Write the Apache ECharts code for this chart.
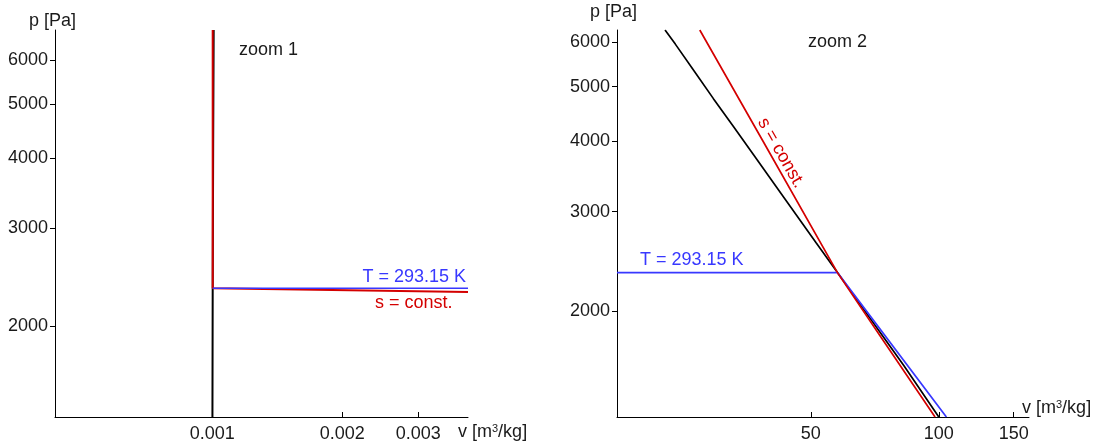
<!DOCTYPE html>
<html><head><meta charset="utf-8">
<script src="https://cdn.jsdelivr.net/npm/echarts@6/dist/echarts.min.js"></script>
<style>html,body{margin:0;padding:0;background:#fff}#c{width:1095px;height:448px}</style>
</head><body><div id="c"></div>
<script>
// ---- zoom 1 (liquid side) ----
const z1XRange = [0.000432, 0.00391];
const z1YRange = [1373, 6800];
const z1XTicks = [0.001, 0.002, 0.003];
const z1YTicks = [2000, 3000, 4000, 5000, 6000];
const z1Sat  = [[0.0010004, 1373], [0.0010018, 2339], [0.0010043, 4247], [0.0010070, 6800]];
const z1Iso  = [[0.0010018, 2339], [0.00391, 2339]];
const z1Isen = [[0.0010018, 6800], [0.0010018, 2339], [0.00391, 2303]];
// ---- zoom 2 (vapour side) ----
const z2XRange = [17.5, 163];
const z2YRange = [1297, 6300];
const z2XTicks = [50, 100, 150];
const z2YTicks = [2000, 3000, 4000, 5000, 6000];
const z2Sat  = [[100, 1297], [82.8, 1599], [73.3, 1819], [65.0, 2065], [57.76, 2339], [51.4, 2645], [43.34, 3170], [36.7, 3782], [32.88, 4247], [29.5, 4760], [26.6, 5324], [24.0, 5947], [22.7, 6300]];
const z2Iso  = [[17.5, 2339], [57.76, 2339], [104.2, 1297]];
const z2Isen = [[98.0, 1297], [73.0, 1800], [57.76, 2339], [38.6, 4000], [27.4, 6300]];

const FONT = 'Liberation Sans';
const TXT = '#1a1a1a';
const RED = '#d40000', BLUE = '#3838ff', BLACK = '#000000';
const fmt = v => String(+(+v).toPrecision(4));

function xAx(gi, range, ticks) {
  return {type: 'log', gridIndex: gi, min: range[0], max: range[1], logBase: 10,
    axisLine: {show: true, lineStyle: {color: '#000', width: 1}},
    axisTick: {show: true, inside: true, length: 5, customValues: ticks, lineStyle: {color: '#000'}},
    axisLabel: {customValues: ticks, margin: 8, fontSize: 18, color: TXT, fontFamily: FONT, formatter: fmt},
    splitLine: {show: false}, minorTick: {show: false}, minorSplitLine: {show: false}};
}
function yAx(gi, range, ticks) {
  return {type: 'log', gridIndex: gi, min: range[0], max: range[1], logBase: 10,
    axisLine: {show: true, lineStyle: {color: '#000', width: 1}},
    axisTick: {show: true, inside: false, length: 5, customValues: ticks, lineStyle: {color: '#000'}},
    axisLabel: {customValues: ticks, margin: 7, fontSize: 18, color: TXT, fontFamily: FONT, formatter: fmt},
    splitLine: {show: false}, minorTick: {show: false}, minorSplitLine: {show: false}};
}
function ln(gi, data, color, w) {
  return {type: 'line', xAxisIndex: gi, yAxisIndex: gi, data: data, showSymbol: false, symbol: 'none',
    lineStyle: {color: color, width: w}, silent: true, animation: false, clip: true};
}
function txt(x, y, text, color, opts) {
  return Object.assign({type: 'text', x: x, y: y, silent: true,
    style: Object.assign({text: text, fill: color, font: '18px "' + FONT + '"', textAlign: 'left', textVerticalAlign: 'middle'}, opts || {})});
}
const vName = {text: '{a|v [m}{b|3}{a|/kg]}', textVerticalAlign: 'middle',
  rich: {a: {fontSize: 18, fontFamily: FONT, fill: TXT}, b: {fontSize: 11, fontFamily: FONT, fill: TXT, verticalAlign: 'top'}}};

const chart = echarts.init(document.getElementById('c'), null, {renderer: 'canvas'});
chart.setOption({
  animation: false,
  backgroundColor: '#fff',
  grid: [
    {left: 55, top: 30, width: 413, height: 387, outerBoundsMode: 'none', containLabel: false},
    {left: 617, top: 30, width: 412, height: 387, outerBoundsMode: 'none', containLabel: false}
  ],
  xAxis: [xAx(0, z1XRange, z1XTicks), xAx(1, z2XRange, z2XTicks)],
  yAxis: [yAx(0, z1YRange, z1YTicks), yAx(1, z2YRange, z2YTicks)],
  series: [
    ln(0, z1Sat, BLACK, 2), ln(0, z1Isen, RED, 2), ln(0, z1Iso, BLUE, 1.5),
    ln(1, z2Sat, BLACK, 1.7), ln(1, z2Iso, BLUE, 1.7), ln(1, z2Isen, RED, 1.7)
  ],
  graphic: [
    txt(29, 20.7, 'p [Pa]', TXT),
    txt(590, 11.7, 'p [Pa]', TXT),
    txt(239, 50.5, 'zoom 1', TXT),
    txt(808, 41.8, 'zoom 2', TXT),
    txt(466, 277.1, 'T = 293.15 K', BLUE, {textAlign: 'right'}),
    txt(375, 302.8, 's = const.', RED),
    txt(640, 260.5, 'T = 293.15 K', BLUE),
    {type: 'text', x: 781, y: 153, rotation: -60.3 * Math.PI / 180, silent: true,
      style: {text: 's = const.', fill: RED, font: '18px "' + FONT + '"', textAlign: 'center', textVerticalAlign: 'middle'}},
    {type: 'text', x: 458, y: 432, silent: true, style: Object.assign({}, vName)},
    {type: 'text', x: 1022, y: 408, silent: true, style: Object.assign({}, vName)}
  ]
});
</script></body></html>
